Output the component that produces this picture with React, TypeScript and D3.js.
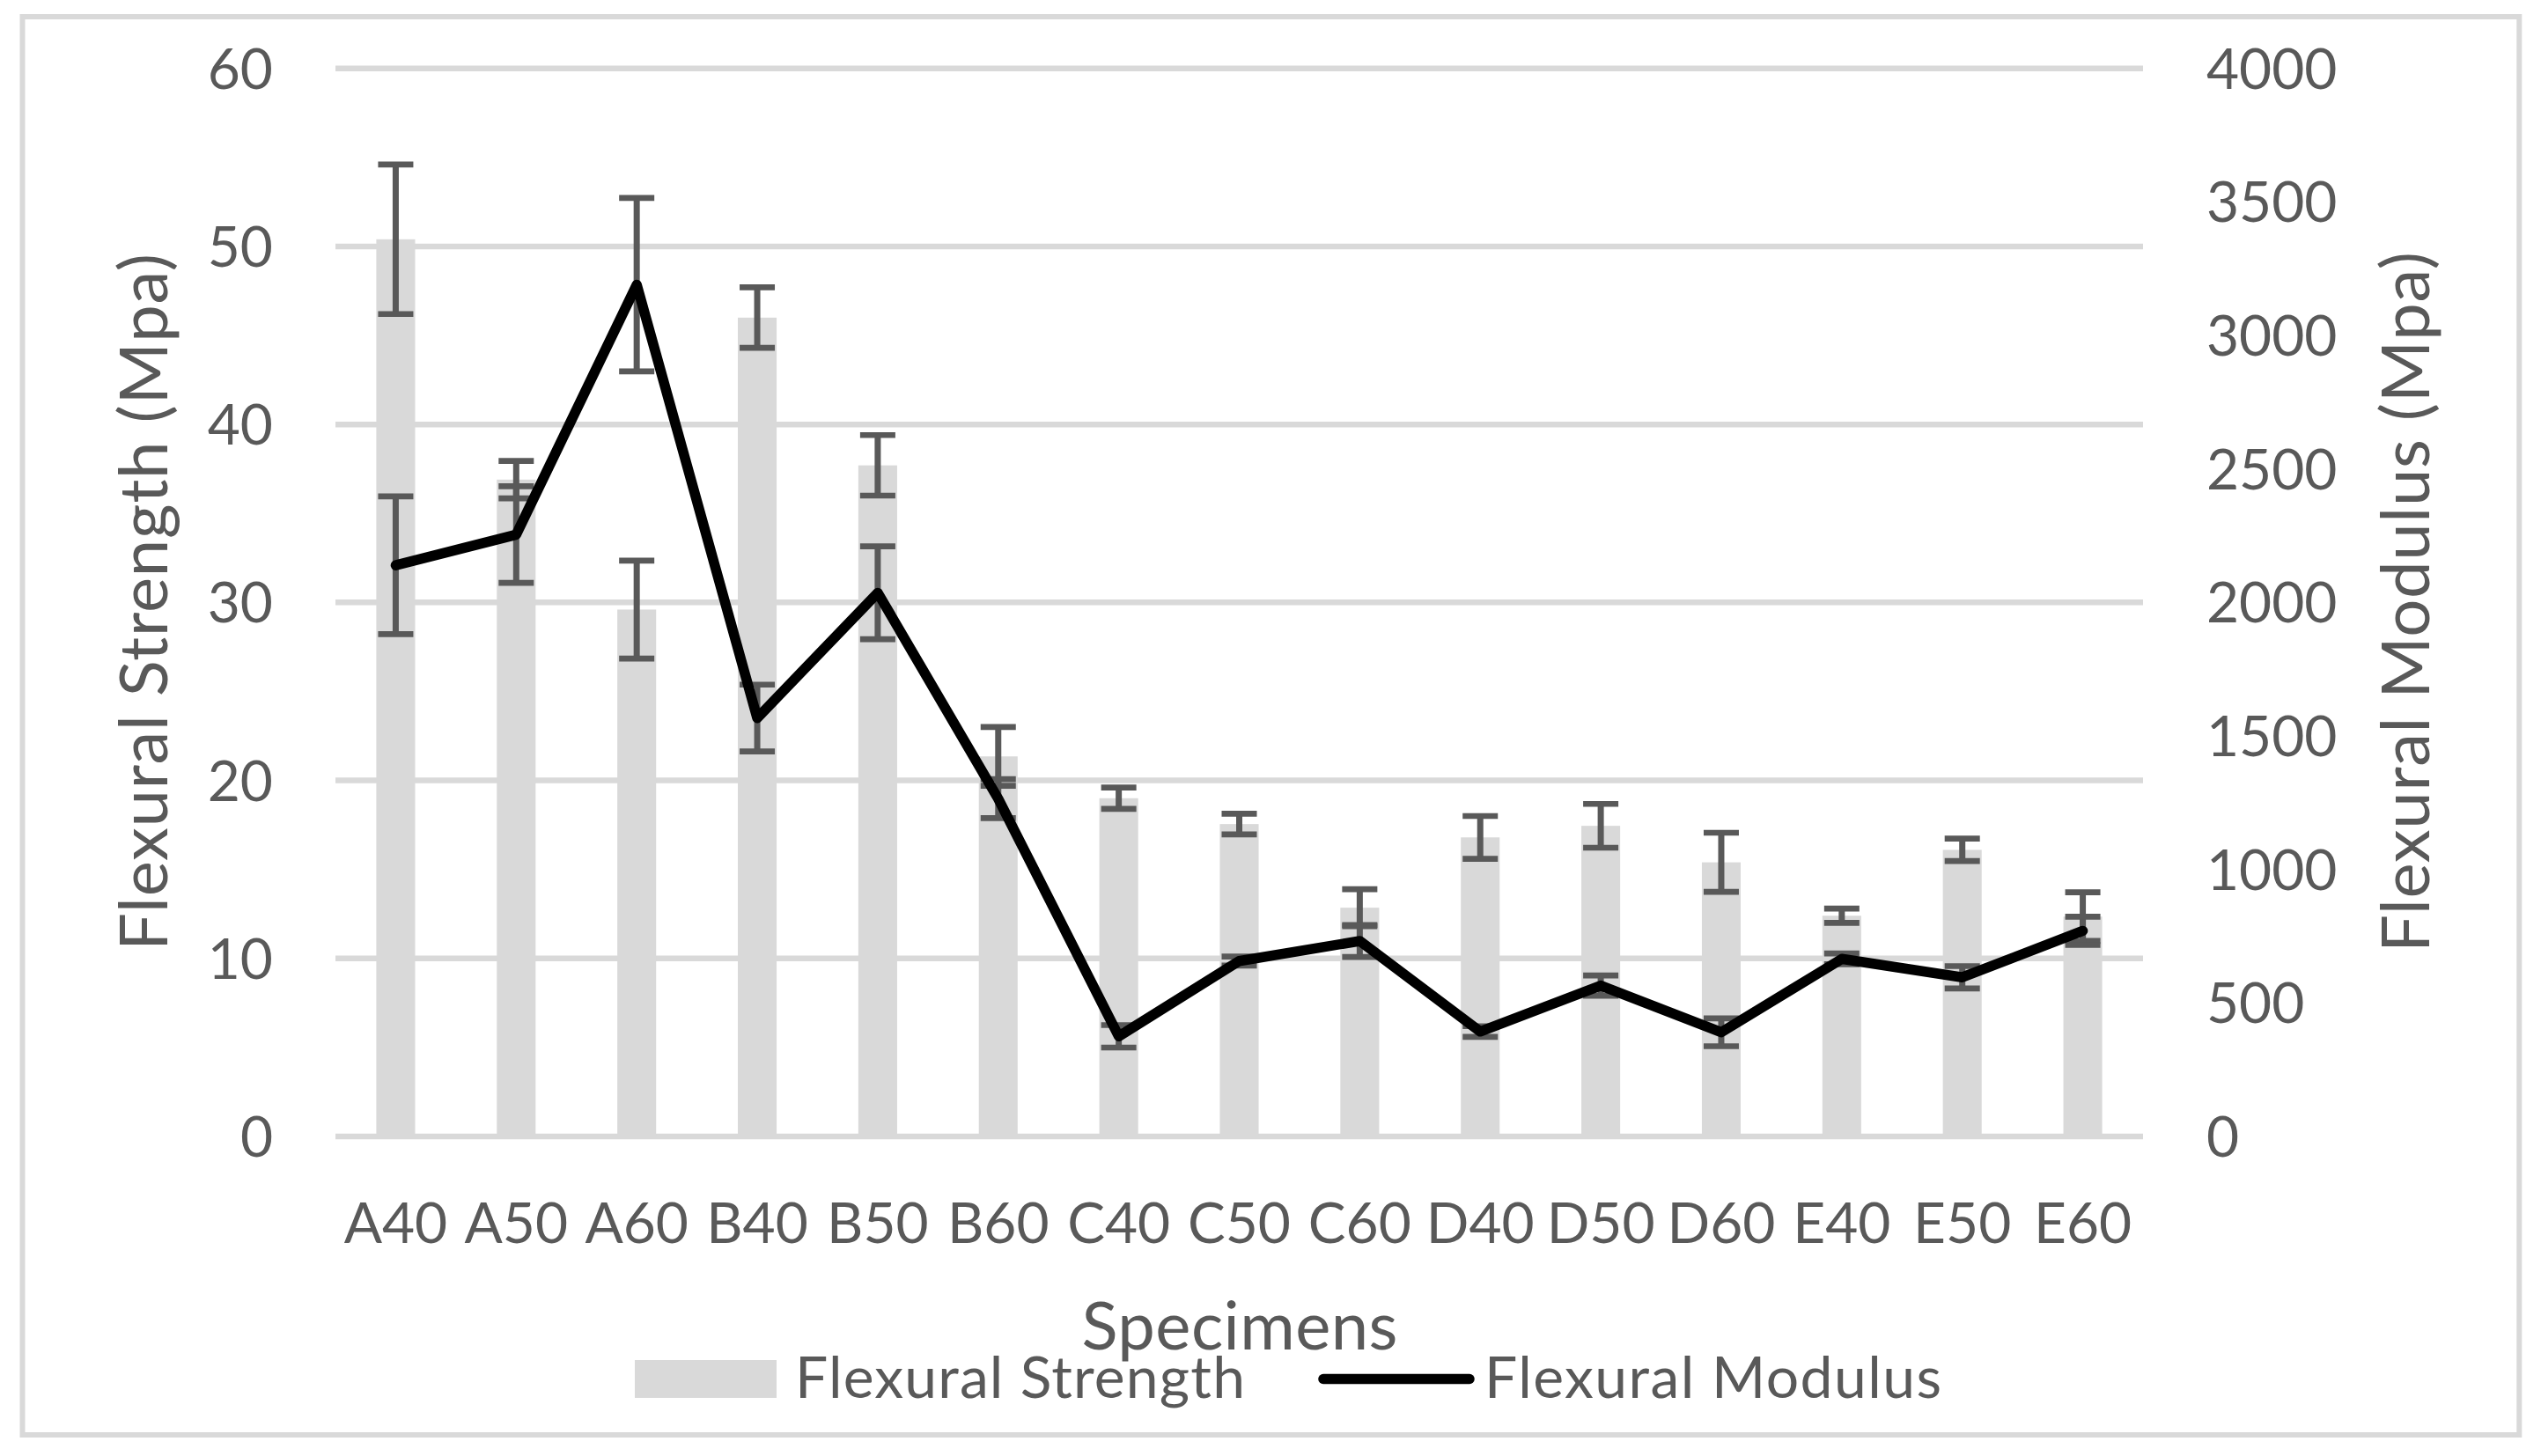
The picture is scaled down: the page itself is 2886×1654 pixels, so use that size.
import React, { useEffect } from "react";
import * as d3 from "d3";

const categories = ["A40", "A50", "A60", "B40", "B50", "B60", "C40", "C50", "C60", "D40", "D50", "D60", "E40", "E50", "E60"];
const strength = [50.4, 36.9, 29.6, 46.0, 37.7, 21.35, 19.0, 17.55, 12.85, 16.8, 17.45, 15.4, 12.4, 16.1, 12.35];
const strengthErr = [4.2, 1.05, 2.75, 1.7, 1.7, 1.65, 0.6, 0.58, 1.04, 1.2, 1.23, 1.66, 0.4, 0.63, 1.37];
const modulus = [2139, 2254, 3190, 1567, 2036, 1265, 375, 657, 732, 393, 565, 390, 665, 596, 770];
const modulusErr = [258, 181, 325, 125, 174, 73, 42, 17, 60, 20, 38, 52, 20, 42, 53];
const leftTicks = [0, 10, 20, 30, 40, 50, 60];
const rightTicks = [0, 500, 1000, 1500, 2000, 2500, 3000, 3500, 4000];

const W = 2886;
const H = 1654;
const FONT = "Lato, 'Open Sans', sans-serif";
const TXT = "#595959";
const GRID = "#d9d9d9";
const ERR = "#595959";

export default function App() {
  useEffect(() => {
    document.body.style.margin = "0";
  }, []);

  const plotLeft = 381;
  const plotRight = 2434;
  const plotTop = 77.7;
  const plotBottom = 1291;

  const x = d3.scaleBand<string>().domain(categories).range([plotLeft, plotRight]).paddingInner(0).paddingOuter(0);
  const yL = d3.scaleLinear().domain([0, 60]).range([plotBottom, plotTop]);
  const yR = d3.scaleLinear().domain([0, 4000]).range([plotBottom, plotTop]);
  const bw = x.bandwidth() * 0.322;
  const cx = (c: string) => (x(c) as number) + x.bandwidth() / 2;

  const line = d3
    .line<number>()
    .x((_, i) => cx(categories[i]))
    .y((d) => yR(d));

  const capW = 40;
  const errBar = (xc: number, y1: number, y2: number, key: string) => (
    <g key={key} stroke={ERR}>
      <line x1={xc} x2={xc} y1={y1} y2={y2} strokeWidth={7} />
      <line x1={xc - capW / 2} x2={xc + capW / 2} y1={y1} y2={y1} strokeWidth={6.7} />
      <line x1={xc - capW / 2} x2={xc + capW / 2} y1={y2} y2={y2} strokeWidth={6.7} />
    </g>
  );

  const tickFs = 64;
  const legendFs = 66;
  const titleFs = 76;

  return (
    <div style={{ position: "absolute", left: 0, top: 0 }}>
      <svg width={W} height={H} style={{ display: "block", background: "#fff" }} fontFamily={FONT}>
        <rect x={0} y={0} width={W} height={H} fill="#fff" />
        <rect x={25.5} y={19} width={2861.3 - 25.5} height={1630 - 19} fill="#fff" stroke={GRID} strokeWidth={6} />

        {/* gridlines */}
        {leftTicks.map((t) => (
          <line key={"g" + t} x1={plotLeft} x2={plotRight} y1={yL(t)} y2={yL(t)} stroke={GRID} strokeWidth={6.5} />
        ))}

        {/* bars */}
        {categories.map((c, i) => (
          <rect key={"b" + c} x={cx(c) - bw / 2} width={bw} y={yL(strength[i])} height={plotBottom - yL(strength[i])} fill="#d9d9d9" />
        ))}

        {/* error bars */}
        {categories.map((c, i) => errBar(cx(c), yL(strength[i] + strengthErr[i]), yL(strength[i] - strengthErr[i]), "es" + c))}
        {categories.map((c, i) => errBar(cx(c), yR(modulus[i] + modulusErr[i]), yR(modulus[i] - modulusErr[i]), "em" + c))}

        {/* line */}
        <path d={line(modulus) || ""} fill="none" stroke="#000" strokeWidth={11.5} strokeLinejoin="round" strokeLinecap="round" />

        {/* left ticks */}
        {leftTicks.map((t) => (
          <text key={"lt" + t} x={310} y={yL(t) + 23} textAnchor="end" fontSize={tickFs} fill={TXT}>
            {t}
          </text>
        ))}
        {/* right ticks */}
        {rightTicks.map((t) => (
          <text key={"rt" + t} x={2506} y={yR(t) + 23} textAnchor="start" fontSize={tickFs} fill={TXT}>
            {t}
          </text>
        ))}
        {/* x ticks */}
        {categories.map((c) => (
          <text key={"xt" + c} x={cx(c)} y={1411.6} textAnchor="middle" fontSize={tickFs} fill={TXT}>
            {c}
          </text>
        ))}

        {/* axis titles */}
        <text x={1408} y={1533} textAnchor="middle" fontSize={titleFs} fill={TXT} textLength={359} lengthAdjust="spacing">
          Specimens
        </text>
        <text transform={`translate(190,684) rotate(-90)`} textAnchor="middle" fontSize={titleFs} fill={TXT} textLength={792} lengthAdjust="spacing">
          Flexural Strength (Mpa)
        </text>
        <text transform={`translate(2759,684) rotate(-90)`} textAnchor="middle" fontSize={titleFs} fill={TXT} textLength={796} lengthAdjust="spacing">
          Flexural Modulus (Mpa)
        </text>

        {/* legend */}
        <rect x={721} y={1545} width={161} height={43} fill="#d9d9d9" />
        <text x={903} y={1588} fontSize={legendFs} fill={TXT} textLength={511} lengthAdjust="spacing">
          Flexural Strength
        </text>
        <line x1={1503} x2={1669} y1={1566.5} y2={1566.5} stroke="#000" strokeWidth={11.5} strokeLinecap="round" />
        <text x={1686} y={1588} fontSize={legendFs} fill={TXT} textLength={519} lengthAdjust="spacing">
          Flexural Modulus
        </text>
      </svg>
    </div>
  );
}
